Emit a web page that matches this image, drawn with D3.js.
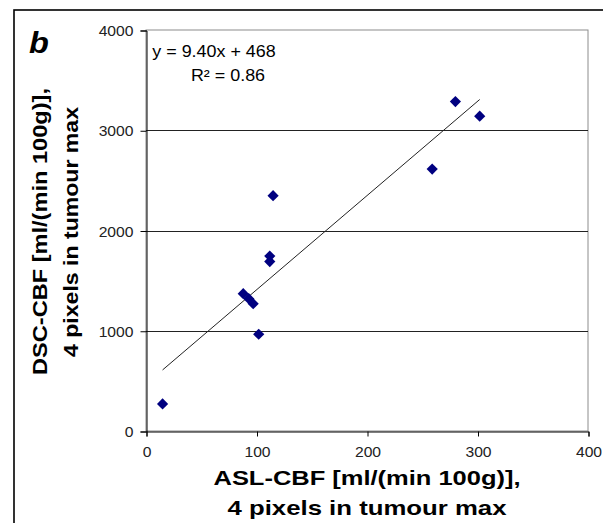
<!DOCTYPE html>
<html><head><meta charset="utf-8">
<script src="https://cdn.jsdelivr.net/npm/d3@7"></script>
<style>
body{margin:0;background:#fff}
text{font-family:Arial,"Liberation Sans",sans-serif}
</style></head>
<body><svg id="c" width="603" height="523"></svg>
<script>
// Data
const aslCBF = [15, 88, 93, 97, 102, 112, 112, 115, 259, 280, 302];
const dscCBF = [270, 1370, 1320, 1270, 965, 1690, 1745, 2347, 2613, 3286, 3140];
const xTicks = [0, 100, 200, 300, 400];
const yTicks = [0, 1000, 2000, 3000, 4000];
const gridValues = [1000, 2000, 3000];
const slope = 9.40, intercept = 468;
const eqLabel = "y = 9.40x + 468";
const r2Label = "R² = 0.86";
const panelLabel = "b";
const xTitle = ["ASL-CBF [ml/(min 100g)],", "4 pixels in tumour max"];
const yTitle = ["DSC-CBF [ml/(min 100g)],", "4 pixels in tumour max"];

const svg = d3.select("#c");
const L = 146, R = 588, T = 30, B = 431;
const x = d3.scaleLinear().domain([0, 400]).range([L, R]);
const y = d3.scaleLinear().domain([0, 4000]).range([B, T]);
const SX = 1.12; // horizontal text stretch seen in the picture

// outer frame
svg.append("rect").attr("x", 14).attr("y", 10).attr("width", 600).attr("height", 530)
  .attr("fill", "none").attr("stroke", "#000").attr("stroke-width", 1.6);

// plot area border (grey)
svg.append("rect").attr("x", L).attr("y", T).attr("width", R - L).attr("height", B - T)
  .attr("fill", "none").attr("stroke", "#8c8c8c").attr("stroke-width", 1);

// gridlines
svg.append("g").selectAll("line").data(gridValues).join("line")
  .attr("x1", L).attr("x2", R).attr("y1", d => Math.round(y(d)) + 0.5).attr("y2", d => Math.round(y(d)) + 0.5)
  .attr("stroke", "#222").attr("stroke-width", 1);

// axes
const yAxis = svg.append("g").attr("transform", `translate(${L + 0.5},0.5)`)
  .call(d3.axisLeft(y).tickValues(yTicks).tickSize(6).tickFormat(d3.format("d")));
const xAxis = svg.append("g").attr("transform", `translate(0.5,${B + 0.5})`)
  .call(d3.axisBottom(x).tickValues(xTicks).tickSize(5).tickFormat(d3.format("d")));
[yAxis, xAxis].forEach(a => {
  a.select(".domain").attr("stroke", "#000");
  a.selectAll(".tick line").attr("stroke", "#000");
  a.selectAll("text").attr("font-size", 14).attr("fill", "#222")
    .attr("font-family", "Arial, 'Liberation Sans', sans-serif");
});
yAxis.selectAll(".tick text").attr("x", -13).attr("dy", "0.36em")
  .attr("transform", `scale(${SX},1)`).each(function () {
    // keep right edge fixed after stretching
    d3.select(this).attr("x", -13 / SX);
  });
xAxis.selectAll(".tick text").attr("y", 16).attr("dy", "0.71em")
  .attr("transform", `scale(${SX},1)`);

// trendline
const xmin = d3.min(aslCBF), xmax = d3.max(aslCBF);
svg.append("line")
  .attr("x1", x(xmin)).attr("y1", y(slope * xmin + intercept))
  .attr("x2", x(xmax)).attr("y2", y(slope * xmax + intercept))
  .attr("stroke", "#222").attr("stroke-width", 1);

// points (diamonds)
const s = 5.6;
svg.append("g").selectAll("path").data(aslCBF.map((v, i) => [v, dscCBF[i]])).join("path")
  .attr("transform", d => `translate(${x(d[0])},${y(d[1])})`)
  .attr("d", `M0,${-s}L${s},0L0,${s}L${-s},0Z`)
  .attr("fill", "#000080");

// helper: stretched text
function stext(tx, ty, str, size, weight, anchor, style) {
  const g = svg.append("g").attr("transform", `translate(${tx},${ty}) scale(${SX},1)`);
  return g.append("text").attr("text-anchor", anchor || "start")
    .attr("font-size", size).attr("font-weight", weight || "normal")
    .attr("font-style", style || "normal").attr("fill", "#000").text(str);
}

// panel label
stext(29, 53, panelLabel, 29, "bold", "start", "italic");

// equation
stext(214, 57, eqLabel, 16, "normal", "middle");
stext(228, 81, r2Label, 16, "normal", "middle");

// x title
const cx = (L + R) / 2;
svg.append("text").attr("x", cx).attr("y", 485).attr("text-anchor", "middle")
  .attr("font-size", 21).attr("font-weight", "bold")
  .attr("textLength", 307).attr("lengthAdjust", "spacingAndGlyphs").text(xTitle[0]);
svg.append("text").attr("x", cx).attr("y", 515).attr("text-anchor", "middle")
  .attr("font-size", 21).attr("font-weight", "bold")
  .attr("textLength", 279).attr("lengthAdjust", "spacingAndGlyphs").text(xTitle[1]);

// y title
svg.append("text").attr("transform", `translate(47,${(88 + 375) / 2}) rotate(-90)`).attr("text-anchor", "middle")
  .attr("font-size", 21).attr("font-weight", "bold")
  .attr("textLength", 287).attr("lengthAdjust", "spacingAndGlyphs").text(yTitle[0]);
svg.append("text").attr("transform", `translate(78,${(107 + 357) / 2}) rotate(-90)`).attr("text-anchor", "middle")
  .attr("font-size", 21).attr("font-weight", "bold")
  .attr("textLength", 250).attr("lengthAdjust", "spacingAndGlyphs").text(yTitle[1]);
</script></body></html>
